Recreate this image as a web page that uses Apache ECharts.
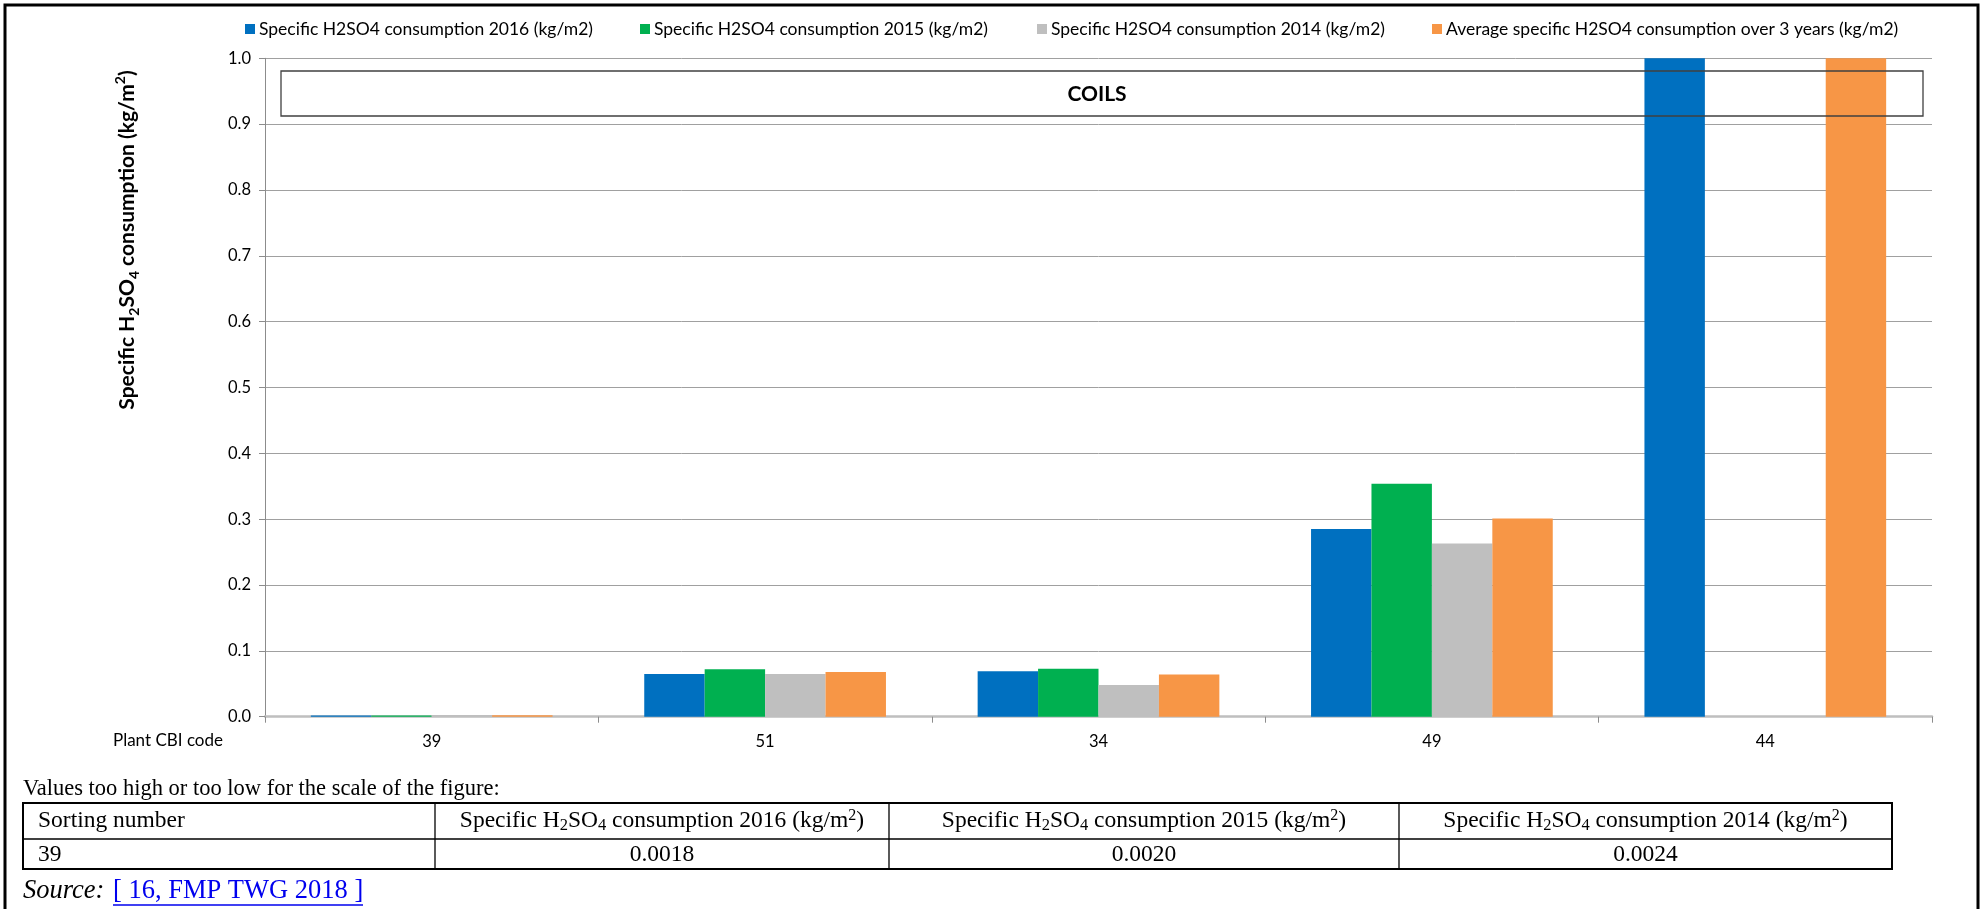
<!DOCTYPE html>
<html><head><meta charset="utf-8">
<script src="https://cdn.jsdelivr.net/npm/echarts@6/dist/echarts.min.js"></script>
<style>html,body{margin:0;padding:0;background:#fff;overflow:hidden}#c{width:1982px;height:909px}</style>
</head><body><div id="c"></div>
<script>
// ---- data ----
const categories = ['39', '51', '34', '49', '44'];
const seriesNames = [
  'Specific H2SO4 consumption 2016 (kg/m2)',
  'Specific H2SO4 consumption 2015 (kg/m2)',
  'Specific H2SO4 consumption 2014 (kg/m2)',
  'Average specific H2SO4 consumption over 3 years (kg/m2)'
];
const values2016 = [0.0018, 0.065, 0.069, 0.285, 1.2];
const values2015 = [0.0020, 0.072, 0.073, 0.354, null];
const values2014 = [0.0024, 0.065, 0.048, 0.263, null];
const valuesAvg  = [0.0021, 0.068, 0.064, 0.301, 1.2];
const yMin = 0, yMax = 1.0, yInterval = 0.1;
const offScaleIndex = 0; // plant 39 listed in the table below the figure

const colors = ['#0070C0', '#00B050', '#BFBFBF', '#F79646'];
const allValues = [values2016, values2015, values2014, valuesAvg];

const chart = echarts.init(document.getElementById('c'), null, {renderer: 'canvas'});
const uiFont = 'Lato';
const serif = '"Liberation Serif", "Times New Roman", serif';

const legendX = [245, 640, 1037, 1432];
const legends = seriesNames.map((n, i) => ({
  data: [n], left: legendX[i], top: 20, itemWidth: 10, itemHeight: 10, itemGap: 0,
  icon: 'rect', selectedMode: false, padding: 0,
  textStyle: {fontFamily: uiFont, fontSize: 17.5, color: '#000', padding: [0, 0, 0, -1]}
}));

const series = seriesNames.map((n, i) => ({
  name: n, type: 'bar', data: allValues[i], barGap: '0%', barCategoryGap: '27.5%',
  itemStyle: {color: colors[i]}, clip: true, animation: false
}));

const cellFont = 23.5;
const subRich = {
  sub: {fontFamily: serif, fontSize: 16.5, verticalAlign: 'bottom', lineHeight: 27, color: '#000'},
  sup: {fontFamily: serif, fontSize: 16, verticalAlign: 'top', lineHeight: 27, color: '#000'}
};
function cellText(x, y, text, align) {
  return {type: 'text', x: x, y: y, style: {
    text: text, fontFamily: serif, fontSize: cellFont, fill: '#000', align: align || 'center',
    verticalAlign: 'middle', lineHeight: 27, rich: subRich
  }};
}
const colEdges = [23, 435, 889, 1399, 1892];
const tTop = 803, tMid = 839, tBot = 869;
const hdr = ['Sorting number',
  'Specific H{sub|2}SO{sub|4} consumption 2016 (kg/m{sup|2})',
  'Specific H{sub|2}SO{sub|4} consumption 2015 (kg/m{sup|2})',
  'Specific H{sub|2}SO{sub|4} consumption 2014 (kg/m{sup|2})'];
const rowVals = [categories[offScaleIndex],
  values2016[offScaleIndex].toFixed(4), values2015[offScaleIndex].toFixed(4), values2014[offScaleIndex].toFixed(4)];

const graphics = [];
// outer frame
graphics.push({type: 'rect', shape: {x: 5, y: 5, width: 1973, height: 940},
  style: {fill: 'none', stroke: '#000', lineWidth: 3}, silent: true});
// y axis name
graphics.push({type: 'text', x: 127, y: 240, rotation: Math.PI / 2, style: {
  text: 'Specific H{sb|2}SO{sb|4} consumption (kg/m{sp|2})',
  fontFamily: uiFont, fontWeight: 'bold', fontSize: 21, fill: '#000', lineHeight: 28,
  align: 'center', verticalAlign: 'middle',
  rich: {
    sb: {fontFamily: uiFont, fontWeight: 'bold', fontSize: 14, verticalAlign: 'bottom', lineHeight: 28},
    sp: {fontFamily: uiFont, fontWeight: 'bold', fontSize: 14, verticalAlign: 'top', lineHeight: 28}
  }}});
// COILS box
graphics.push({type: 'rect', z: 100, shape: {x: 281, y: 71, width: 1642, height: 45},
  style: {fill: 'none', stroke: '#404040', lineWidth: 1.3}});
graphics.push({type: 'text', z: 101, x: 1097, y: 94, style: {text: 'COILS', fontFamily: uiFont,
  fontWeight: 'bold', fontSize: 21, fill: '#000', align: 'center', verticalAlign: 'middle'}});
// x axis caption
graphics.push({type: 'text', x: 113, y: 741, style: {text: 'Plant CBI code', fontFamily: uiFont,
  fontSize: 17, fill: '#000', align: 'left', verticalAlign: 'middle'}});
// note above table
graphics.push({type: 'text', x: 23, y: 789, style: {text: 'Values too high or too low for the scale of the figure:',
  fontFamily: serif, fontSize: 22.5, fill: '#000', align: 'left', verticalAlign: 'middle'}});
// table borders
graphics.push({type: 'rect', shape: {x: colEdges[0], y: tTop, width: colEdges[4] - colEdges[0], height: tBot - tTop},
  style: {fill: 'none', stroke: '#000', lineWidth: 2}});
graphics.push({type: 'line', shape: {x1: colEdges[0], y1: tMid, x2: colEdges[4], y2: tMid}, style: {stroke: '#000', lineWidth: 1.3}});
for (let i = 1; i < 4; i++) {
  graphics.push({type: 'line', shape: {x1: colEdges[i], y1: tTop, x2: colEdges[i], y2: tBot}, style: {stroke: '#000', lineWidth: 1.3}});
}
hdr.forEach((h, i) => {
  if (i === 0) graphics.push(cellText(38, 821, h, 'left'));
  else graphics.push(cellText((colEdges[i] + colEdges[i + 1]) / 2, 821, h, 'center'));
});
rowVals.forEach((v, i) => {
  if (i === 0) graphics.push(cellText(38, 855, v, 'left'));
  else graphics.push(cellText((colEdges[i] + colEdges[i + 1]) / 2, 855, v, 'center'));
});
// source
graphics.push({type: 'text', x: 23, y: 891, style: {text: 'Source:', fontFamily: serif, fontStyle: 'italic',
  fontSize: 26.5, fill: '#000', align: 'left', verticalAlign: 'middle'}});
graphics.push({type: 'text', x: 113, y: 891, style: {text: '[ 16, FMP TWG 2018 ]', fontFamily: serif,
  fontSize: 26.5, fill: '#0000EE', align: 'left', verticalAlign: 'middle'}});
graphics.push({type: 'line', shape: {x1: 113, y1: 905, x2: 363, y2: 905}, style: {stroke: '#0000EE', lineWidth: 1.5}});

chart.setOption({
  animation: false,
  color: colors,
  legend: legends,
  grid: {left: 265, right: 50, top: 58.3, bottom: 192.3, containLabel: false},
  xAxis: {
    type: 'category', data: categories,
    axisLine: {lineStyle: {color: '#bfbfbf', width: 2.5}},
    axisTick: {show: true, length: 6, lineStyle: {color: '#8c8c8c'}},
    axisLabel: {fontFamily: uiFont, fontSize: 16.5, color: '#000', margin: 16}
  },
  yAxis: {
    type: 'value', min: yMin, max: yMax, interval: yInterval,
    axisLine: {show: true, lineStyle: {color: '#8c8c8c', width: 1}},
    axisTick: {show: true, length: 6, lineStyle: {color: '#8c8c8c'}},
    splitLine: {lineStyle: {color: '#a0a0a0', width: 1}},
    axisLabel: {fontFamily: uiFont, fontSize: 16.5, color: '#000', margin: 14,
      formatter: v => v.toFixed(1)}
  },
  series: series,
  graphic: {elements: graphics}
});
</script></body></html>
